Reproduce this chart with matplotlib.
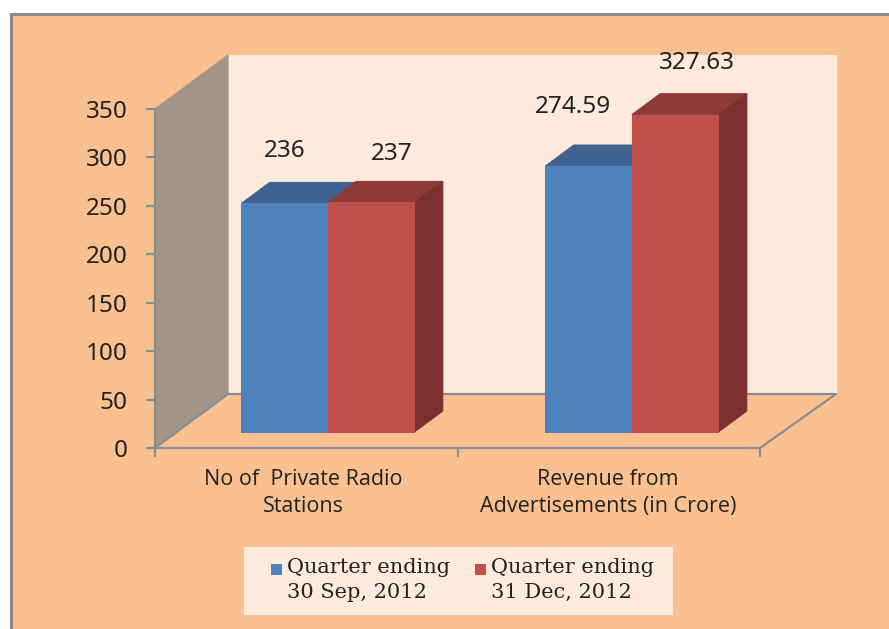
import matplotlib
matplotlib.use('Agg')
import matplotlib.pyplot as plt
from matplotlib.patches import Polygon, Rectangle

W, H = 889, 629

categories = ['No of  Private Radio\nStations', 'Revenue from\nAdvertisements (in Crore)']
sep_2012 = [236, 274.59]
dec_2012 = [237, 327.63]
yticks = [0, 50, 100, 150, 200, 250, 300, 350]

BG = '#FBC08F'
WALL = '#FEEBDD'
SIDE = '#A29488'
AXIS = '#868E96'
TEXT = '#222222'
BLUE = ('#4F81BD', '#3F6290', '#355A88')
RED = ('#C0504D', '#8F3938', '#7B302E')

fig = plt.figure(figsize=(W / 100, H / 100), dpi=100, facecolor='white')


def px_box(x0, y0, x1, y1):
    # pixel box, y counted from the top
    return [x0 / W, 1 - y1 / H, (x1 - x0) / W, (y1 - y0) / H]


# orange panel behind everything, runs off the right and bottom edge
fig.patches.append(Rectangle((10.5 / W, -20 / H), 900 / W, (20 + H - 13.5) / H,
                             transform=fig.transFigure, facecolor=BG,
                             edgecolor='#8A8A8A', linewidth=2.2, zorder=-1))

ax = fig.add_axes(px_box(155, 109, 760, 448))
ax.set_xlim(0, 2)
ax.set_ylim(0, 350)
ax.patch.set_visible(False)

# depth of the box, in data units
dx = 73 / 302.5
dy = 54 / (339 / 350)
wall_end = 2 + 3 / 302.5  # back wall ends a little further right


def pt(x, y, z):
    return (x + z * dx, y + z * dy)


def poly(points, color, zorder=2, edge=None):
    ax.add_patch(Polygon(points, closed=True, facecolor=color, zorder=zorder,
                         edgecolor=edge or color, linewidth=0.8, clip_on=False))


# walls
poly([pt(0, 0, 1), pt(wall_end, 0, 1), pt(wall_end, 350, 1), pt(0, 350, 1)], WALL, 1)
poly([pt(0, 0, 0), pt(0, 0, 1), pt(0, 350, 1), pt(0, 350, 0)], SIDE, 1)
poly([pt(0, 0, 0), pt(2, 0, 0), pt(wall_end, 0, 1), pt(0, 0, 1)], BG, 1)
# floor edges
for a, b in [(pt(0, 0, 0), pt(0, 0, 1)), (pt(2, 0, 0), pt(wall_end, 0, 1)),
             (pt(0, 0, 1), pt(wall_end, 0, 1))]:
    ax.plot([a[0], b[0]], [a[1], b[1]], color=AXIS, lw=1.6, zorder=1.5,
            clip_on=False, solid_capstyle='round')

bar_w = 0.286
z0 = 16 / 54
z1 = 37 / 54
centers = [0.5, 1.505]


def bar3d(x, v, cols, zorder):
    front, top, side = cols
    x1 = x + bar_w
    poly([pt(x, v, z0), pt(x1, v, z0), pt(x1, v, z1), pt(x, v, z1)], top, zorder)
    poly([pt(x1, 0, z0), pt(x1, 0, z1), pt(x1, v, z1), pt(x1, v, z0)], side, zorder)
    poly([pt(x, 0, z0), pt(x1, 0, z0), pt(x1, v, z0), pt(x, v, z0)], front, zorder + 0.1)


for i in range(2):
    c = centers[i]
    bar3d(c - bar_w, sep_2012[i], BLUE, 3)
    bar3d(c, dec_2012[i], RED, 4)

# data labels sit off the bars by hand in the original
label_off = [(0, 52), (20.5, 48), (-15.5, 59), (22, 52)]
vals = [(centers[0] - bar_w / 2, sep_2012[0]), (centers[0] + bar_w / 2, dec_2012[0]),
        (centers[1] - bar_w / 2, sep_2012[1]), (centers[1] + bar_w / 2, dec_2012[1])]
for (x, v), off in zip(vals, label_off):
    ax.annotate(f'{v:g}', pt(x, v, z0), xytext=off, textcoords='offset pixels',
                ha='center', va='center', fontsize=17.5, color=TEXT,
                family='Noto Sans', zorder=6, annotation_clip=False)

for s in ('top', 'right'):
    ax.spines[s].set_visible(False)
for s in ('left', 'bottom'):
    ax.spines[s].set_color(AXIS)
    ax.spines[s].set_linewidth(1.6)
    ax.spines[s].set_zorder(2)

ax.set_yticks(yticks)
ax.set_xticks([0, 1, 2])
ax.set_xticklabels([])
ax.tick_params(axis='both', color=AXIS, width=1.6, length=6.5, labelcolor=TEXT)
ax.tick_params(axis='y', labelsize=17.5, pad=13)
for lab in ax.get_yticklabels():
    lab.set_family('Noto Sans')

# category names
name_x = [0.49, 1.497]
for i, name in enumerate(categories):
    ax.annotate(name, (name_x[i], 0), xytext=(0, -45), textcoords='offset pixels',
                ha='center', va='center', fontsize=15.5, color=TEXT,
                family='Open Sans', linespacing=1.36, annotation_clip=False)

# legend
fig.patches.append(Rectangle((244 / W, 1 - 615 / H), 429 / W, 68 / H,
                             transform=fig.transFigure, facecolor=WALL, edgecolor='none'))
legend_items = [('Quarter ending\n30 Sep, 2012', BLUE[0], 270.5, 287),
                ('Quarter ending\n31 Dec, 2012', RED[0], 475, 491)]
for label, col, sx, tx in legend_items:
    fig.patches.append(Rectangle((sx / W, 1 - 574.5 / H), 11 / W, 11 / H,
                                 transform=fig.transFigure, facecolor=col, edgecolor='none'))
    fig.text(tx / W, 1 - 580 / H, label, ha='left', va='center', fontsize=15,
             family='DejaVu Serif', color=TEXT, linespacing=1.45)

fig.savefig('out.png', dpi=100, facecolor=fig.get_facecolor())
